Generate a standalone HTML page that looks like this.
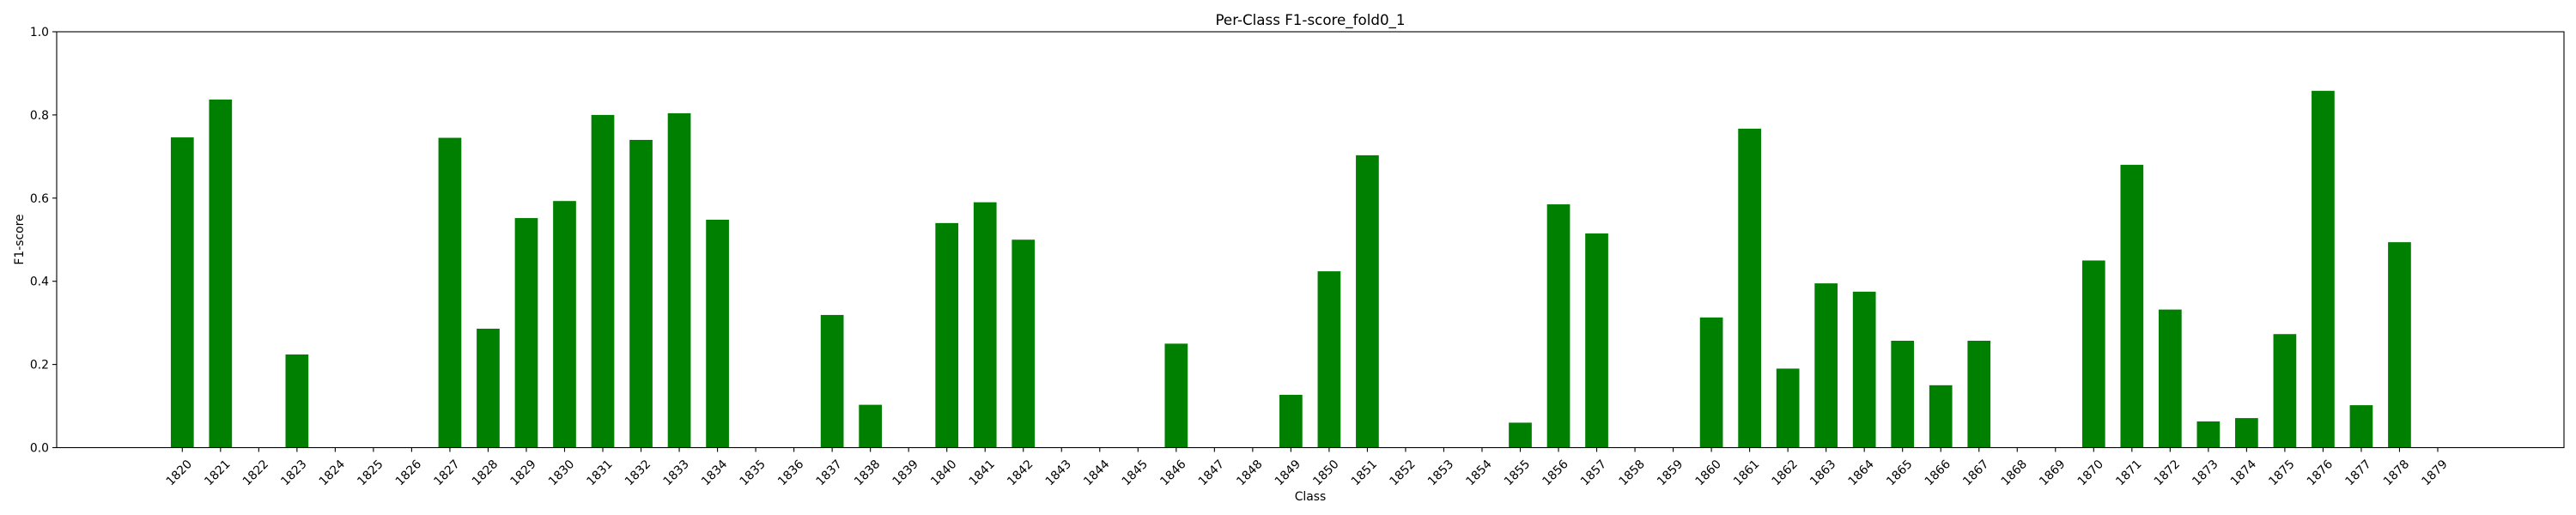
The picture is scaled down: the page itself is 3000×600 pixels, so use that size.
<!DOCTYPE html>
<html><head><meta charset="utf-8"><style>
html,body{margin:0;padding:0;background:#fff;}
svg{display:block;font-family:"DejaVu Sans","Liberation Sans",sans-serif;}
</style></head><body>
<svg id="chart" width="3000" height="600" viewBox="0 0 3000 600" xmlns="http://www.w3.org/2000/svg">
<rect width="3000" height="600" fill="#fff"/>
<text x="1526" y="29" font-size="16.7" text-anchor="middle" fill="#000">Per-Class F1-score_fold0_1</text>
<text x="1526" y="583" font-size="13.9" text-anchor="middle" fill="#000">Class</text>
<text transform="translate(27,279) rotate(-90)" font-size="13.9" text-anchor="middle" fill="#000">F1-score</text>
<g id="bars"></g>
<g id="xticks"></g>
<g id="yticks"></g>
<rect x="66" y="37" width="2920" height="484.5" fill="none" stroke="#000" stroke-width="1.1"/>
</svg>
<script>
const categories = [];
for (let c = 1820; c <= 1879; c++) categories.push(String(c));
const f1Values = [
0.746,0.837,0,0.224,0,0,0,0.745,0.286,0.552,
0.593,0.800,0.740,0.804,0.548,0,0,0.319,0.103,0,
0.540,0.590,0.500,0,0,0,0.250,0,0,0.127,
0.424,0.703,0,0,0,0.060,0.585,0.515,0,0,
0.313,0.767,0.190,0.395,0.375,0.257,0.150,0.257,0,0,
0.450,0.680,0.332,0.063,0.071,0.273,0.858,0.102,0.494,0
];
const yTickValues = [0,0.2,0.4,0.6,0.8,1.0];
const yTickLabels = ["0.0","0.2","0.4","0.6","0.8","1.0"];

const NS = "http://www.w3.org/2000/svg";
const plotL = 66, plotR = 2986, plotT = 37, plotB = 521.5;
const x0 = 212.3, step = 44.52, barW = 0.6 * step;
function xScale(i){ return x0 + i * step; }
function yScale(v){ return plotB - v * (plotB - plotT); }

const bars = document.getElementById('bars');
const xg = document.getElementById('xticks');
const yg = document.getElementById('yticks');

categories.forEach((cat, i) => {
  const v = f1Values[i];
  const cx = xScale(i);
  if (v > 0) {
    const r = document.createElementNS(NS, 'rect');
    r.setAttribute('x', cx - barW / 2);
    r.setAttribute('y', yScale(v));
    r.setAttribute('width', barW);
    r.setAttribute('height', plotB - yScale(v));
    r.setAttribute('fill', '#008000');
    
    
    bars.appendChild(r);
  }
  const t = document.createElementNS(NS, 'line');
  t.setAttribute('x1', cx); t.setAttribute('x2', cx);
  t.setAttribute('y1', plotB); t.setAttribute('y2', plotB + 5);
  t.setAttribute('stroke', '#000'); t.setAttribute('stroke-width', '1.1');
  
  
  xg.appendChild(t);
  const l = document.createElementNS(NS, 'text');
  l.setAttribute('transform', 'translate(' + (cx + 5) + ',' + (plotB + 13) + ') rotate(-45)');
  l.setAttribute('text-anchor', 'end');
  l.setAttribute('font-size', '13.9');
  l.setAttribute('dy', '0.7em');
  l.setAttribute('fill', '#000');
  l.textContent = cat;
  
  
  xg.appendChild(l);
});

yTickValues.forEach((v, i) => {
  const y = yScale(v);
  const t = document.createElementNS(NS, 'line');
  t.setAttribute('x1', plotL - 5); t.setAttribute('x2', plotL);
  t.setAttribute('y1', y); t.setAttribute('y2', y);
  t.setAttribute('stroke', '#000'); t.setAttribute('stroke-width', '1.1');
  
  
  yg.appendChild(t);
  const l = document.createElementNS(NS, 'text');
  l.setAttribute('x', plotL - 9);
  l.setAttribute('y', y + 5);
  l.setAttribute('text-anchor', 'end');
  l.setAttribute('font-size', '13.9');
  l.setAttribute('fill', '#000');
  l.textContent = yTickLabels[i];
  
  
  yg.appendChild(l);
});
</script>
</body></html>
